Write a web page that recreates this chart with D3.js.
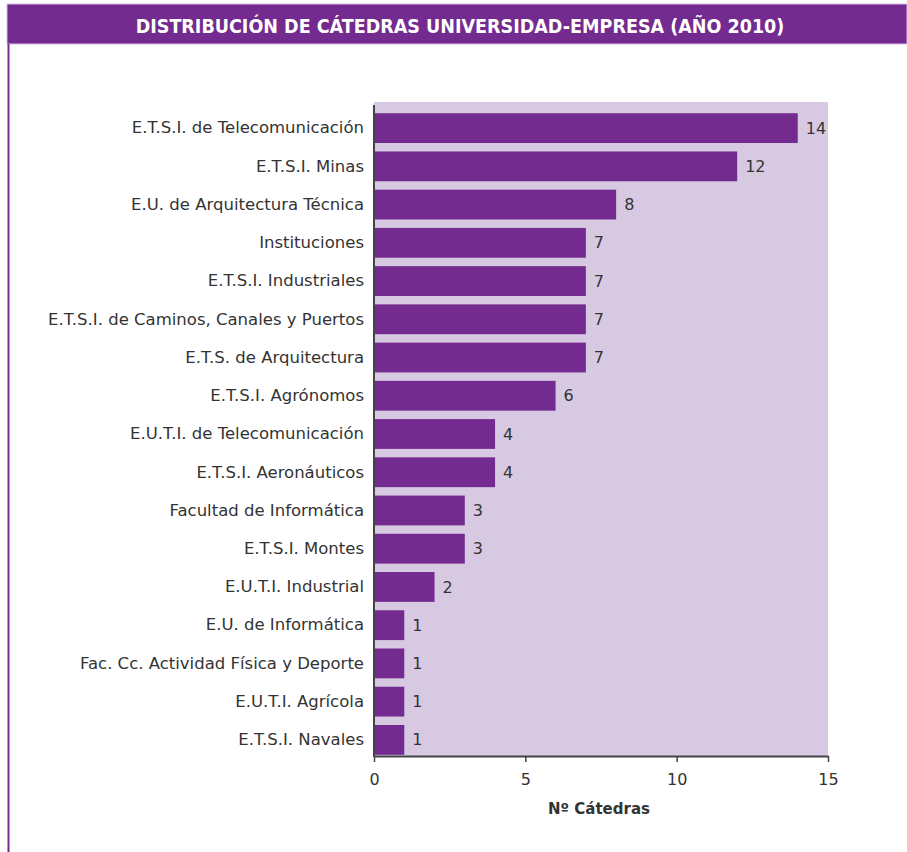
<!DOCTYPE html>
<html>
<head>
<meta charset="utf-8">
<script src="https://cdn.jsdelivr.net/npm/d3@7"></script>
<style>
  body { margin: 0; background: #fff; }
  text { font-family: "DejaVu Sans", sans-serif; }
</style>
</head>
<body>
<div id="viz"></div>
<script>
//==============================================================================
// Data
var categories = [
	"E.T.S.I. de Telecomunicación",
	"E.T.S.I. Minas",
	"E.U. de Arquitectura Técnica",
	"Instituciones",
	"E.T.S.I. Industriales",
	"E.T.S.I. de Caminos, Canales y Puertos",
	"E.T.S. de Arquitectura",
	"E.T.S.I. Agrónomos",
	"E.U.T.I. de Telecomunicación",
	"E.T.S.I. Aeronáuticos",
	"Facultad de Informática",
	"E.T.S.I. Montes",
	"E.U.T.I. Industrial",
	"E.U. de Informática",
	"Fac. Cc. Actividad Física y Deporte",
	"E.U.T.I. Agrícola",
	"E.T.S.I. Navales"
];
var catedras = [14, 12, 8, 7, 7, 7, 7, 6, 4, 4, 3, 3, 2, 1, 1, 1, 1];
var x_ticks = [0, 5, 10, 15];

var title = "DISTRIBUCIÓN DE CÁTEDRAS UNIVERSIDAD-EMPRESA (AÑO 2010)";
var x_title = "Nº Cátedras";

//==============================================================================
// Sizes and colours
var width = 907, height = 852;
var plot = {left: 374, right: 828, top: 102, bottom: 756};
var bar_color = "#732b8f", bg_color = "#d8c9e3", text_color = "#333";
var label_font = "'DejaVu Sans', sans-serif";

var svg = d3.select("#viz").append("svg")
	.attr("width", width)
	.attr("height", height);

// frame: title band and left rule
svg.append("rect")
	.attr("x", 7).attr("y", 4)
	.attr("width", width - 7).attr("height", 40)
	.attr("fill", bar_color)
	.attr("stroke", "#d6bfe3").attr("stroke-width", 1);
svg.append("line")
	.attr("x1", 8.5).attr("x2", 8.5)
	.attr("y1", 44).attr("y2", height)
	.attr("stroke", bar_color).attr("stroke-width", 2);
svg.append("text")
	.attr("x", 460).attr("y", 33)
	.attr("text-anchor", "middle")
	.attr("fill", "#fff")
	.attr("font-weight", "bold")
	.attr("font-size", 19.5)
	.style("font-family", "'DejaVu Sans Condensed', 'DejaVu Sans', sans-serif")
	.text(title);

//==============================================================================
// Scales
var x = d3.scaleLinear()
	.domain([0, 15])
	.range([plot.left, plot.right]);
var y = d3.scaleBand()
	.domain(categories)
	.range([109, 759])
	.paddingInner(0.22)
	.paddingOuter(0.11);

// plot background
svg.append("rect")
	.attr("x", plot.left).attr("y", plot.top)
	.attr("width", plot.right - plot.left)
	.attr("height", plot.bottom - plot.top)
	.attr("fill", bg_color);

// bars
svg.append("g").selectAll("rect")
	.data(catedras)
	.enter().append("rect")
	.attr("x", x(0) + 1)
	.attr("y", function(d, i) { return y(categories[i]) })
	.attr("width", function(d) { return x(d) - x(0) - 1 })
	.attr("height", y.bandwidth())
	.attr("fill", bar_color);

// value labels
svg.append("g").selectAll("text")
	.data(catedras)
	.enter().append("text")
	.attr("x", function(d) { return x(d) + 8 })
	.attr("y", function(d, i) { return y(categories[i]) + y.bandwidth() / 2 })
	.attr("dy", "0.35em")
	.attr("font-size", 16)
	.attr("fill", text_color)
	.text(function(d) { return d });

// y axis
var yAxis = svg.append("g")
	.attr("transform", "translate(" + plot.left + ",0)")
	.call(d3.axisLeft(y).tickSize(0).tickPadding(10));
yAxis.select(".domain").remove();
yAxis.selectAll("text")
	.attr("font-size", 16.5)
	.attr("fill", text_color)
	.style("font-family", label_font);
svg.append("line")
	.attr("x1", plot.left).attr("x2", plot.left)
	.attr("y1", 105).attr("y2", plot.bottom + 1)
	.attr("stroke", "#444").attr("stroke-width", 2);

// x axis
var xAxis = svg.append("g")
	.attr("transform", "translate(0," + plot.bottom + ")")
	.call(d3.axisBottom(x).tickValues(x_ticks).tickSize(6).tickPadding(12).tickSizeOuter(0));
xAxis.select(".domain").attr("stroke", "#444").attr("stroke-width", 2);
xAxis.selectAll(".tick line").attr("stroke", "#444").attr("stroke-width", 1.5);
xAxis.selectAll("text")
	.attr("font-size", 16)
	.attr("fill", text_color)
	.style("font-family", label_font);

svg.append("text")
	.attr("x", (plot.left + plot.right) / 2 - 2)
	.attr("y", 814)
	.attr("text-anchor", "middle")
	.attr("font-weight", "bold")
	.attr("font-size", 15)
	.attr("fill", text_color)
	.text(x_title);
</script>
</body>
</html>
